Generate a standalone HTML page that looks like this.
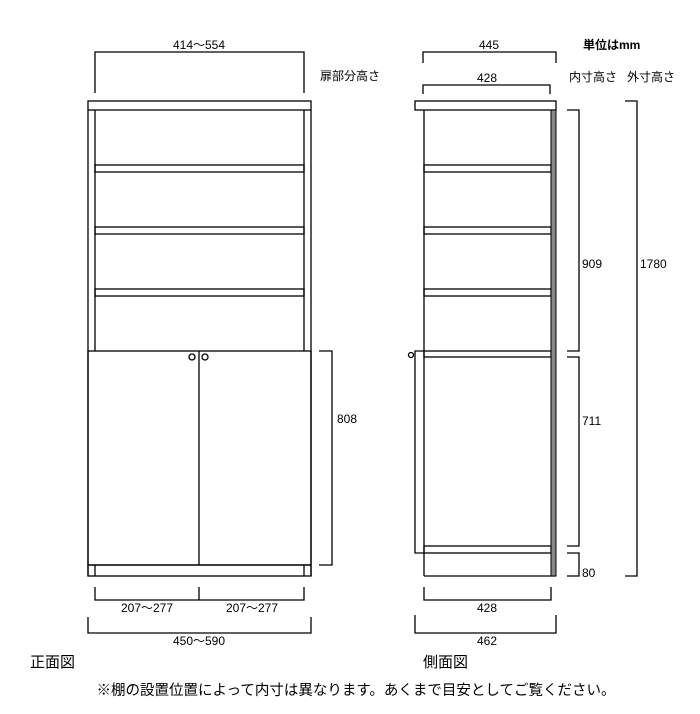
<!DOCTYPE html>
<html><head><meta charset="utf-8"><style>
body{margin:0;background:#fff;width:700px;height:714px;overflow:hidden}
svg{display:block}
text{font-family:"Liberation Sans","Noto Sans CJK JP",sans-serif;fill:#000}
</style></head><body>
<svg width="700" height="714" viewBox="0 0 700 714" xmlns="http://www.w3.org/2000/svg">
<g fill="none" stroke="#000" stroke-width="1.3">
<path d="M95 93V52H304V93"/>
<rect x="88" y="101" width="223" height="9"/>
<line x1="88" y1="110" x2="88" y2="576"/><line x1="311" y1="110" x2="311" y2="576"/>
<line x1="95" y1="110" x2="95" y2="351"/><line x1="304" y1="110" x2="304" y2="351"/>
<rect x="95" y="165" width="209" height="7"/>
<rect x="95" y="227" width="209" height="7"/>
<rect x="95" y="289" width="209" height="7"/>
<rect x="88" y="351" width="223" height="214"/>
<line x1="199" y1="351" x2="199" y2="565"/>
<circle cx="192" cy="357" r="3"/><circle cx="205" cy="357" r="3"/>
<rect x="88" y="565" width="223" height="11"/>
<line x1="95" y1="565" x2="95" y2="576"/><line x1="304" y1="565" x2="304" y2="576"/>
<path d="M319 351H332V565H319"/>
<path d="M95 587V600H304V587M199 587V600"/>
<path d="M88 617V633H311V617"/>
<path d="M423 63V52H556V63"/>
<path d="M423 94V85H550V94"/>
<rect x="415" y="101" width="141" height="9"/>
<line x1="424" y1="110" x2="424" y2="576"/>
<line x1="424" y1="576" x2="556" y2="576"/>
<rect x="424" y="165" width="127" height="7"/>
<rect x="424" y="227" width="127" height="7"/>
<rect x="424" y="289" width="127" height="7"/>
<rect x="424" y="351" width="127" height="6"/>
<rect x="424" y="546" width="127" height="7"/>
<path d="M424 351H415V553H424"/>
<circle cx="411" cy="355" r="2.5"/>
<path d="M567 110H579V351H567"/>
<path d="M567 357H579V546H567"/>
<path d="M567 553H579V576H567"/>
<path d="M625 101H637V576H625"/>
<path d="M424 587V600H551V587"/>
<path d="M415 615V633H556V615"/>
</g>
<rect x="551" y="110" width="5" height="466" fill="#888" stroke="#000" stroke-width="1"/>
<g font-size="12">
<text x="199" y="49" text-anchor="middle">414〜554</text>
<text x="320" y="80">扉部分高さ</text>
<text x="337" y="423">808</text>
<text x="147" y="612" text-anchor="middle">207〜277</text>
<text x="252" y="612" text-anchor="middle">207〜277</text>
<text x="199" y="645" text-anchor="middle">450〜590</text>
<text x="489" y="49" text-anchor="middle">445</text>
<text x="487" y="82" text-anchor="middle">428</text>
<text x="569" y="81">内寸高さ</text>
<text x="627" y="81">外寸高さ</text>
<text x="582" y="268">909</text>
<text x="582" y="425">711</text>
<text x="582" y="577">80</text>
<text x="640" y="268">1780</text>
<text x="487" y="612" text-anchor="middle">428</text>
<text x="487" y="645" text-anchor="middle">462</text>
</g>
<text x="583" y="49" font-size="12" font-weight="bold">単位はmm</text>
<text x="30" y="667" font-size="15">正面図</text>
<text x="423" y="667" font-size="15">側面図</text>
<text x="356" y="695" font-size="14.5" text-anchor="middle">※棚の設置位置によって内寸は異なります。あくまで目安としてご覧ください。</text>
</svg>
</body></html>
